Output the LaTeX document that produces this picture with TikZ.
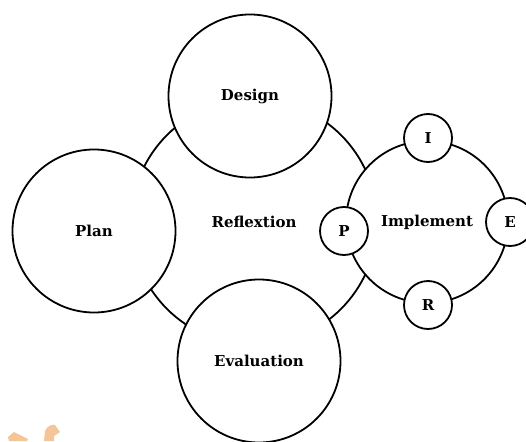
\documentclass[tikz,border=0pt]{standalone}
\usepackage{fontspec}
\setmainfont{DejaVu Serif}
\definecolor{peach}{HTML}{F5C598}

\begin{document}
\begin{tikzpicture}[x=1pt,y=-1pt]
\tikzset{rond/.style={draw, circle, line width=1.8pt, fill=white, inner sep=0pt,
    font=\bfseries\fontsize{15}{17}\selectfont},
  grandrond/.style={rond, minimum size=163pt},
  petitrond/.style={rond, minimum size=48pt}}
\useasboundingbox (0,0) rectangle (526,441);
\clip (0,0) rectangle (526,441);
% watermark bits
\fill[peach] (8,437) -- (14,432) -- (28,439) -- (27,441) -- (9,441) -- cycle;
\fill[peach] (44,441) -- (45,431) .. controls (47,426) and (52,424) .. (55,425) -- (60,432) -- (54,436) -- (54,441) -- cycle;
\node[rond, minimum size=246pt] (Refl) at (254,222) {Reflextion};
\node[rond, minimum size=162pt] (Impl) at (427,222) {Implement};
\node[grandrond] (Design) at (250,96) {Design};
\node[grandrond] (Plan) at (94,231) {Plan};
\node[grandrond] (Eval) at (259,361) {Evaluation};
\node[petitrond] (I) at (428,138) {I};
\node[petitrond] (P) at (344,231) {P};
\node[petitrond] (E) at (510,222) {E};
\node[petitrond] (R) at (428,305) {R};
\end{tikzpicture}
\end{document}
